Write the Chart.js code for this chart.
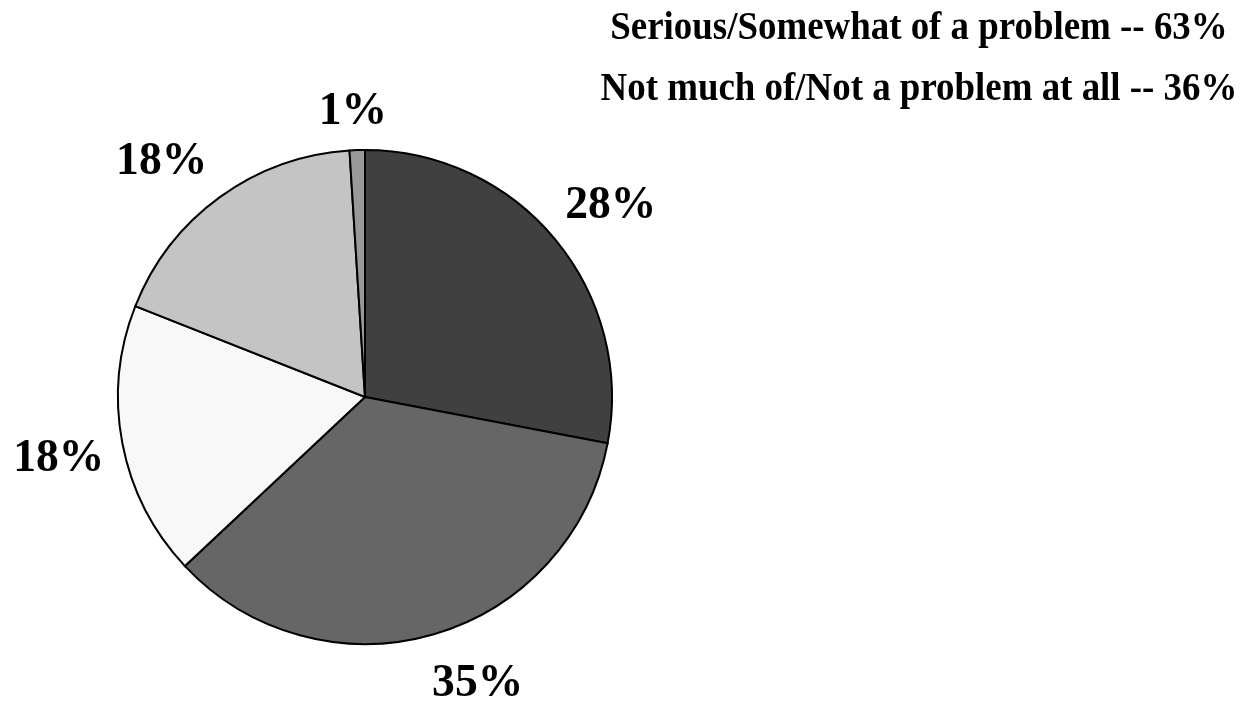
<!DOCTYPE html>
<html>
<head>
<meta charset="utf-8">
<script src="https://cdn.jsdelivr.net/npm/chart.js@4.4.1/dist/chart.umd.min.js"></script>
<style>
  html, body { margin: 0; padding: 0; background: #fff; }
  #wrap { position: relative; width: 1247px; height: 701px; }
</style>
</head>
<body>
<div id="wrap"><canvas id="pie" width="1247" height="701"></canvas></div>
<script>
// survey shares, clockwise from 12 o'clock
const shares = [28, 35, 18, 18, 1]
const sliceColors = ['#404040', '#666666', '#f8f8f8', '#c4c4c4', '#999999']
const legendLines = [
  'Serious/Somewhat of a problem -- 63%',
  'Not much of/Not a problem at all -- 36%'
]

// where each percent label sits: degrees off the slice middle, and distance in radii
const labelTurn = [1.2, -5.5, 0, -4.4, -0.6]
const labelReach = [1.27, 1.234, 1.262, 1.27, 1.173]

const serif = '"Liberation Serif", "Times New Roman", serif'

function squeezedText (ctx, text, x, y, size, sx, align) {
  ctx.save()
  ctx.font = 'bold ' + size + 'px ' + serif
  ctx.textAlign = align
  ctx.textBaseline = 'alphabetic'
  ctx.fillStyle = '#000'
  ctx.translate(x, y)
  ctx.scale(sx, 1)
  ctx.fillText(text, 0, 0)
  ctx.restore()
}

const pieLabels = {
  id: 'pieLabels',
  afterDraw (chart) {
    const ctx = chart.ctx
    const arcs = chart.getDatasetMeta(0).data
    arcs.forEach((arc, i) => {
      const mid = (arc.startAngle + arc.endAngle) / 2 + labelTurn[i] * Math.PI / 180
      const r = arc.outerRadius * labelReach[i]
      const x = arc.x + Math.cos(mid) * r
      const y = arc.y + Math.sin(mid) * r
      squeezedText(ctx, shares[i] + '%', x, y + 16, 47, 0.97, 'center')
    })
    // two centred lines in the top right corner
    legendLines.forEach((line, i) => {
      squeezedText(ctx, line, 919, 39 + i * 61, 41, 0.9, 'center')
    })
  }
}

function build () {
  const ctx = document.getElementById('pie').getContext('2d')
  new Chart(ctx, {
    type: 'pie',
    data: {
      labels: shares.map(v => v + '%'),
      datasets: [{
        data: shares,
        backgroundColor: sliceColors,
        borderColor: '#000',
        borderWidth: 2,
        borderJoinStyle: 'miter'
      }]
    },
    options: {
      responsive: false,
      animation: false,
      layout: {
        padding: { left: 117, right: 634, top: 149, bottom: 56 }
      },
      plugins: {
        legend: { display: false },
        tooltip: { enabled: false }
      }
    },
    plugins: [pieLabels]
  })
}

build()
</script>
</body>
</html>
